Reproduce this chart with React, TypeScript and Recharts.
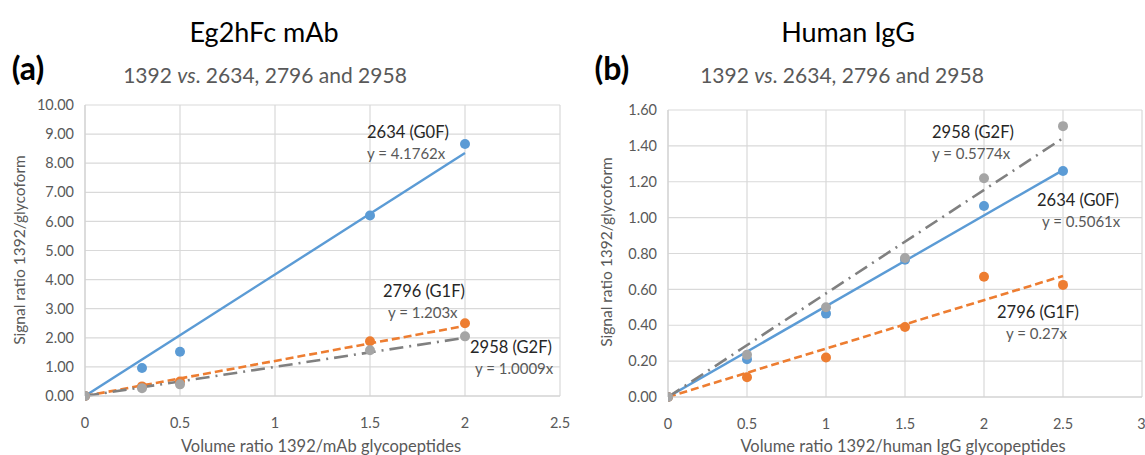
import React from 'react';
import { ComposedChart, Scatter, Line, XAxis, YAxis, CartesianGrid } from 'recharts';

// (a) Eg2hFc mAb
const mabX = [0, 0.3, 0.5, 1.5, 2];
const mabG0F = [0, 0.96, 1.52, 6.2, 8.66];
const mabG1F = [0, 0.33, 0.5, 1.88, 2.5];
const mabG2F = [0, 0.27, 0.4, 1.57, 2.05];
const mabTrendX = [0, 2];
const mabTrendG0F = [0, 8.35];
const mabTrendG1F = [0, 2.41];
const mabTrendG2F = [0, 2.0];
const mabXTicks = [0, 0.5, 1, 1.5, 2, 2.5];
const mabYTicks = [0, 1, 2, 3, 4, 5, 6, 7, 8, 9, 10];

// (b) Human IgG
const iggX = [0, 0.5, 1, 1.5, 2, 2.5];
const iggG0F = [0, 0.21, 0.465, 0.765, 1.065, 1.26];
const iggG1F = [0, 0.11, 0.22, 0.39, 0.67, 0.625];
const iggG2F = [0, 0.235, 0.5, 0.775, 1.22, 1.51];
const iggTrendX = [0, 2.5];
const iggTrendG0F = [0, 1.265];
const iggTrendG1F = [0, 0.675];
const iggTrendG2F = [0, 1.443];
const iggXTicks = [0, 0.5, 1, 1.5, 2, 2.5, 3];
const iggYTicks = [0, 0.2, 0.4, 0.6, 0.8, 1.0, 1.2, 1.4, 1.6];

const BLUE = '#5b9bd5';
const ORANGE = '#ed7d31';
const GRAY = '#a5a5a5';
const TREND_GRAY = '#808080';
const FONT = 'Lato, "Open Sans", sans-serif';

const pts = (xs: number[], ys: number[]) => xs.map((x, i) => ({ x, y: ys[i] }));

const tickStyle = { fill: '#595959', fontSize: 14.5, fontFamily: FONT };

type PanelProps = {
  left: number;
  width: number;
  margin: { top: number; right: number; bottom: number; left: number };
  xTicks: number[];
  yTicks: number[];
  xs: number[];
  g0f: number[];
  g1f: number[];
  g2f: number[];
  trendX: number[];
  t0: number[];
  t1: number[];
  t2: number[];
};

const first = (t: number[]) => t[0];
const last = (t: number[]) => t[t.length - 1];

const dot = (color: string) => (props: any) => <circle cx={props.cx} cy={props.cy} r={5} fill={color} />;

const Panel: React.FC<PanelProps> = p => (
  <div style={{ position: 'absolute', left: p.left, top: 0 }}>
    <ComposedChart width={p.width} height={455} margin={p.margin}>
      <CartesianGrid stroke="#d9d9d9" strokeWidth={1.2} />
      <XAxis
        type="number"
        dataKey="x"
        domain={[first(p.xTicks), last(p.xTicks)]}
        ticks={p.xTicks}
        axisLine={{ stroke: '#d0d0d0' }}
        tickLine={false}
        tickSize={0}
        tickMargin={22}
        tick={tickStyle}
        height={30}
        allowDataOverflow
      />
      <YAxis
        type="number"
        dataKey="y"
        domain={[first(p.yTicks), last(p.yTicks)]}
        ticks={p.yTicks}
        tickFormatter={(v: number) => v.toFixed(2)}
        axisLine={{ stroke: '#d0d0d0' }}
        tickLine={false}
        tickSize={0}
        tickMargin={11}
        tick={tickStyle}
        width={50}
      />
      <Line data={pts(p.trendX, p.t0)} dataKey="y" stroke={BLUE} strokeWidth={2.4} dot={false} isAnimationActive={false} />
      <Line data={pts(p.trendX, p.t1)} dataKey="y" stroke={ORANGE} strokeWidth={2.6} strokeDasharray="8 4" dot={false} isAnimationActive={false} />
      <Line data={pts(p.trendX, p.t2)} dataKey="y" stroke={TREND_GRAY} strokeWidth={2.6} strokeDasharray="14 6 2 6" dot={false} isAnimationActive={false} />
      <Scatter data={pts(p.xs, p.g0f)} fill={BLUE} shape={dot(BLUE)} isAnimationActive={false} />
      <Scatter data={pts(p.xs, p.g1f)} fill={ORANGE} shape={dot(ORANGE)} isAnimationActive={false} />
      <Scatter data={pts(p.xs, p.g2f)} fill={GRAY} shape={dot(GRAY)} isAnimationActive={false} />
    </ComposedChart>
  </div>
);

const Txt: React.FC<{ x: number; y: number; size: number; color: string; bold?: boolean; children: React.ReactNode; rotate?: boolean }> = ({ x, y, size, color, bold, children, rotate }) => (
  <div
    style={{
      position: 'absolute',
      left: x,
      top: y,
      transform: `translate(-50%, -50%)${rotate ? ' rotate(-90deg)' : ''}`,
      fontSize: size,
      color,
      fontWeight: bold ? 700 : 400,
      whiteSpace: 'nowrap',
      fontFamily: FONT,
      lineHeight: 1,
    }}
  >
    {children}
  </div>
);

const Ann: React.FC<{ x: number; y: number; name: string; eq: string; eqDx?: number }> = ({ x, y, name, eq, eqDx = 0 }) => (
  <>
    <div style={{ position: 'absolute', left: x, top: y - 9, fontSize: 16.5, color: '#262626', fontFamily: FONT, whiteSpace: 'nowrap', lineHeight: 1 }}>
      {name}
    </div>
    <div style={{ position: 'absolute', left: x + eqDx, top: y + 13, fontSize: 15, color: '#595959', fontFamily: FONT, whiteSpace: 'nowrap', lineHeight: 1 }}>
      {eq}
    </div>
  </>
);

export default function App() {
  return (
    <div style={{ position: 'absolute', left: 0, top: 0, width: 1145, height: 455, background: '#fff', overflow: 'hidden', fontFamily: FONT }}>
      <Panel
        left={0}
        width={580}
        margin={{ top: 105, right: 20, bottom: 29, left: 35 }}
        xTicks={mabXTicks}
        yTicks={mabYTicks}
        xs={mabX}
        g0f={mabG0F}
        g1f={mabG1F}
        g2f={mabG2F}
        trendX={mabTrendX}
        t0={mabTrendG0F}
        t1={mabTrendG1F}
        t2={mabTrendG2F}
      />
      <Panel
        left={580}
        width={565}
        margin={{ top: 110, right: 3, bottom: 28, left: 38 }}
        xTicks={iggXTicks}
        yTicks={iggYTicks}
        xs={iggX}
        g0f={iggG0F}
        g1f={iggG1F}
        g2f={iggG2F}
        trendX={iggTrendX}
        t0={iggTrendG0F}
        t1={iggTrendG1F}
        t2={iggTrendG2F}
      />

      <Txt x={264} y={31} size={27} color="#000">Eg2hFc mAb</Txt>
      <Txt x={265} y={74} size={21} color="#595959">
        1392 <i>vs</i>. 2634, 2796 and 2958
      </Txt>
      <Txt x={28} y={68} size={32} color="#000" bold>(a)</Txt>
      <Txt x={20} y={250} size={15.5} color="#595959" rotate>Signal ratio 1392/glycoform</Txt>
      <Txt x={321} y={446} size={16.5} color="#595959">Volume ratio 1392/mAb glycopeptides</Txt>

      <Txt x={848} y={31} size={27} color="#000">Human IgG</Txt>
      <Txt x={842} y={74} size={21} color="#595959">
        1392 <i>vs</i>. 2634, 2796 and 2958
      </Txt>
      <Txt x={612} y={68} size={32} color="#000" bold>(b)</Txt>
      <Txt x={607} y={252} size={15.5} color="#595959" rotate>Signal ratio 1392/glycoform</Txt>
      <Txt x={903} y={446} size={16.5} color="#595959">Volume ratio 1392/human IgG glycopeptides</Txt>

      <Ann x={367} y={133} name="2634 (G0F)" eq="y = 4.1762x" />
      <Ann x={383} y={292} name="2796 (G1F)" eq="y = 1.203x" eqDx={5} />
      <Ann x={470} y={348} name="2958 (G2F)" eq="y = 1.0009x" eqDx={5} />

      <Ann x={932} y={133} name="2958 (G2F)" eq="y = 0.5774x" />
      <Ann x={1037} y={201} name="2634 (G0F)" eq="y = 0.5061x" eqDx={5} />
      <Ann x={997} y={313} name="2796 (G1F)" eq="y = 0.27x" eqDx={9} />
    </div>
  );
}
